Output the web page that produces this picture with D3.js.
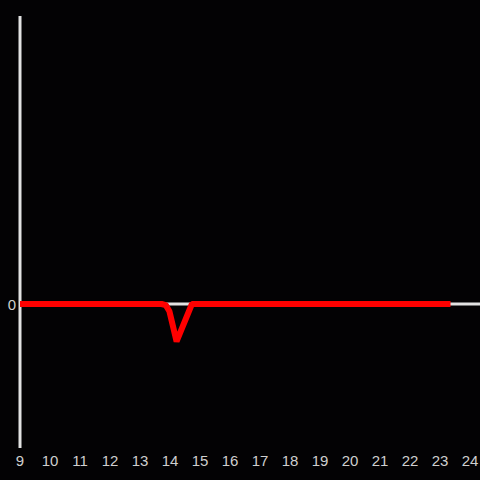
<!DOCTYPE html>
<html>
<head>
<meta charset="utf-8">
<script src="https://cdn.jsdelivr.net/npm/d3@7"></script>
<style>
  html, body { margin: 0; padding: 0; background: #030204; }
  svg { display: block; }
</style>
</head>
<body>
<svg id="chart" width="480" height="480"></svg>
<script>
// Data: hour of day vs value.
const hours = [9, 12, 13.72, 13.86, 13.98, 14.22, 14.73, 18, 23.35];
const values = [0, 0, 0, -0.004, -0.025, -0.13, 0, 0, 0];
const xTicks = d3.range(9, 25);
const yTicks = [0];

const width = 480, height = 480;
const svg = d3.select("#chart");

const x = d3.scaleLinear().domain([9, 24.333]).range([20, 480]);
const y = d3.scaleLinear().domain([-0.5, 1]).range([448, 16]);

svg.append("rect")
    .attr("width", width)
    .attr("height", height)
    .attr("fill", "#030204");

// Zero line across the plot.
svg.append("line")
    .attr("x1", x(9))
    .attr("x2", width)
    .attr("y1", y(0))
    .attr("y2", y(0))
    .attr("stroke", "#e2e2e2")
    .attr("stroke-width", 3);

// Y axis line.
svg.append("line")
    .attr("x1", x(9))
    .attr("x2", x(9))
    .attr("y1", y(1))
    .attr("y2", y(-0.5))
    .attr("stroke", "#e2e2e2")
    .attr("stroke-width", 3);

// X tick labels.
svg.append("g")
    .selectAll("text")
    .data(xTicks)
    .join("text")
    .attr("x", (d) => x(d))
    .attr("y", 466)
    .attr("text-anchor", "middle")
    .attr("font-family", "Liberation Sans, Arial, sans-serif")
    .attr("font-size", 15)
    .attr("fill", "#cfcfcf")
    .text((d) => d);

// Y tick labels.
svg.append("g")
    .selectAll("text")
    .data(yTicks)
    .join("text")
    .attr("x", 16)
    .attr("y", (d) => y(d) + 5.5)
    .attr("text-anchor", "end")
    .attr("font-family", "Liberation Sans, Arial, sans-serif")
    .attr("font-size", 15)
    .attr("fill", "#cfcfcf")
    .text((d) => d);

// Red series.
const line = d3.line()
    .x((d, i) => x(hours[i]))
    .y((d) => y(d));

svg.append("path")
    .datum(values)
    .attr("d", line)
    .attr("fill", "none")
    .attr("stroke", "#ff0000")
    .attr("stroke-width", 6)
    .attr("stroke-linejoin", "bevel");
</script>
</body>
</html>
